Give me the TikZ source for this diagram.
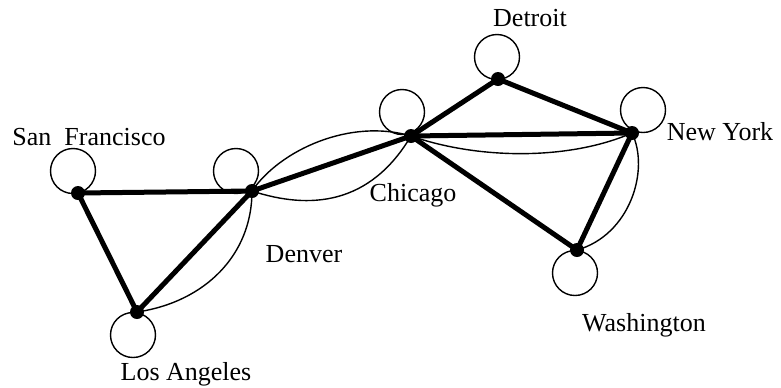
\documentclass[tikz,border=0pt]{standalone}
\usepackage{fontspec}
\setmainfont{Liberation Serif}
\begin{document}
\begin{tikzpicture}[x=0.5pt,y=-0.5pt,
  city/.style={circle,fill=black,inner sep=0pt,minimum size=7pt},
  loopc/.style={draw,line width=0.7pt},
  road/.style={line width=2.5pt},
  link/.style={line width=0.7pt},
  lbl/.style={font=\fontsize{13}{15}\selectfont,inner sep=0pt}]
\useasboundingbox (0,0) rectangle (781,387);
% loops
\draw[loopc] (73,171) circle (22.5);
\draw[loopc] (236,171) circle (22.5);
\draw[loopc] (133,335) circle (22.5);
\draw[loopc] (402,112) circle (22.5);
\draw[loopc] (497,57) circle (22.5);
\draw[loopc] (643,110) circle (22.5);
\draw[loopc] (575,273) circle (22.5);
% cities
\node[city] (sf) at (78,193) {};
\node[city] (den) at (252,191) {};
\node[city] (la) at (137,312) {};
\node[city] (chi) at (411,136) {};
\node[city] (det) at (498,79) {};
\node[city] (ny) at (632,133) {};
\node[city] (wash) at (577,250) {};
% thick roads
\draw[road] (sf.center) -- (den.center);
\draw[road] (sf.center) -- (la.center);
\draw[road] (la.center) -- (den.center);
\draw[road] (den.center) -- (chi.center);
\draw[road] (chi.center) -- (det.center);
\draw[road] (det.center) -- (ny.center);
\draw[road] (chi.center) -- (ny.center);
\draw[road] (chi.center) -- (wash.center);
\draw[road] (wash.center) -- (ny.center);
% thin links
\draw[link] (la.center) .. controls (205,302) and (252,255) .. (den.center);
\draw[link] (den.center) .. controls (280,150) and (350,118) .. (chi.center);
\draw[link] (den.center) .. controls (310,210) and (370,205) .. (chi.center);
\draw[link] (chi.center) .. controls (480,160) and (570,160) .. (ny.center);
\draw[link] (ny.center) .. controls (650,170) and (630,235) .. (wash.center);
% labels
\node[lbl] (lsf) at (89,137) {San\ \ Francisco};
\node[lbl] (lla) at (186,374) {Los Angeles};
\node[lbl] (lden) at (304,254) {Denver};
\node[lbl] (lchi) at (413,195) {Chicago};
\node[lbl] (ldet) at (530,18) {Detroit};
\node[lbl] (lny) at (720,132) {New York};
\node[lbl] (lwash) at (644,325) {Washington};
\end{tikzpicture}
\end{document}
